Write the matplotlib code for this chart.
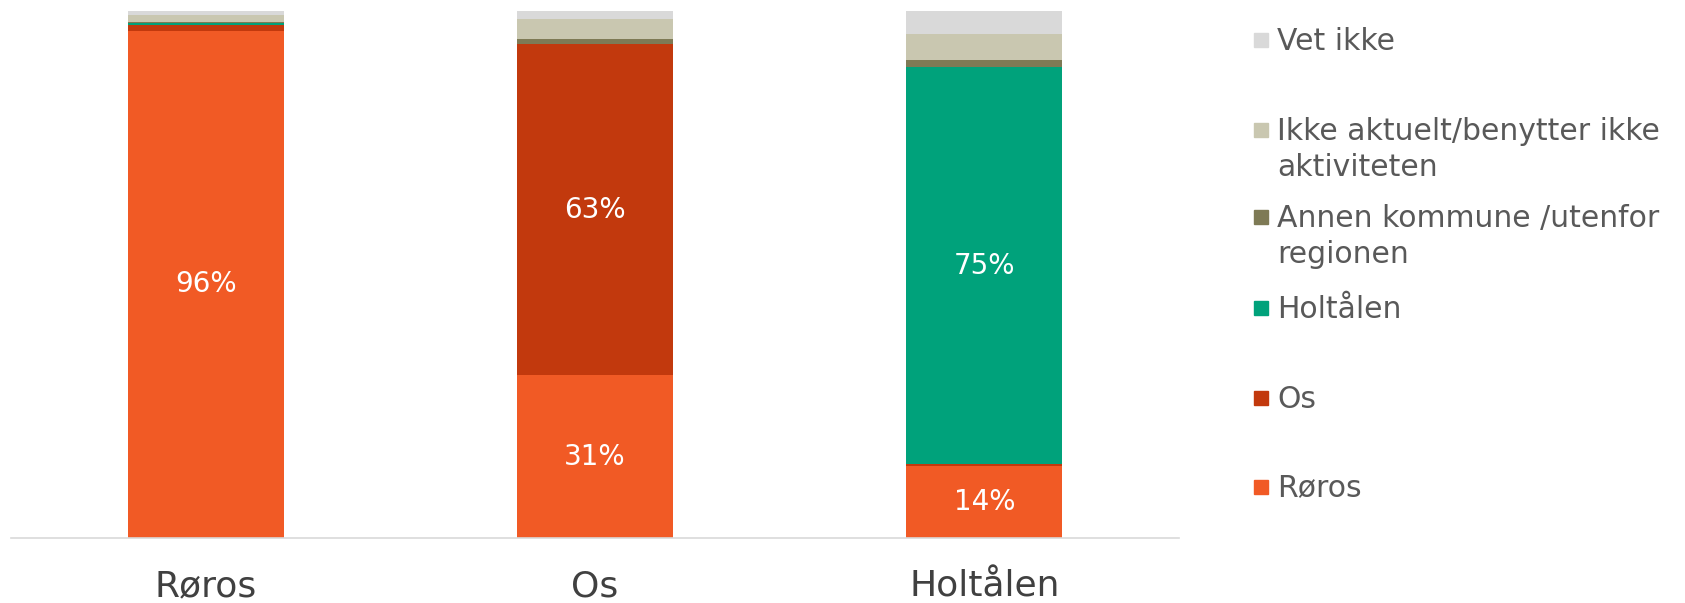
import numpy as np
import matplotlib
matplotlib.use("Agg")
from matplotlib import pyplot as plt
from matplotlib.patches import Rectangle

plt.rcParams['font.family'] = ['DejaVu Sans']

categories = ["Røros", "Os", "Holtålen"]
series = ["Røros", "Os", "Holtålen", "Annen kommune /utenfor\nregionen",
          "Ikke aktuelt/benytter ikke\naktiviteten", "Vet ikke"]
values = {
    "Røros": [96.3, 30.9, 13.7],
    "Os": [1.1, 62.9, 0.3],
    "Holtålen": [0.4, 0.0, 75.4],
    "Annen": [0.2, 1.0, 1.4],
    "Ikke aktuelt": [1.4, 3.8, 5.0],
    "Vet ikke": [0.6, 1.4, 4.2],
}
colors = ["#F15A25", "#C2390D", "#00A27B", "#7E7A55", "#C9C7B0", "#D9D9D9"]
show_label = 10  # only label segments bigger than this

fig = plt.figure(figsize=(16.85, 6.03), dpi=100)
ax = fig.add_axes([11 / 1685, 0.108, 1168 / 1685, 0.873])

x = np.arange(len(categories))
bottom = np.zeros(len(categories))
for key, color in zip(values, colors):
    v = np.array(values[key])
    ax.bar(x, v, 0.4, bottom=bottom, color=color, linewidth=0)
    for xi, b, vi in zip(x, bottom, v):
        if vi > show_label:
            ax.text(xi, b + vi / 2, f"{vi:.0f}%", ha='center', va='center',
                    color='white', fontsize=20)
    bottom += v

ax.set_xlim(-0.5, 2.5)
ax.set_ylim(0, 100)
for s in ['top', 'right', 'left']:
    ax.spines[s].set_visible(False)
ax.spines['bottom'].set_color('#D9D9D9')
ax.spines['bottom'].set_linewidth(1.2)
ax.set_yticks([])
ax.set_xticks(x)
ax.set_xticklabels(categories, fontsize=26, color='#404040')
ax.tick_params(axis='x', length=0, pad=23)

# legend, top entry = last series
leg_y = [0.934, 0.784, 0.640, 0.489, 0.340, 0.193]
for yy, name, color in zip(leg_y, series[::-1], colors[::-1]):
    fig.patches.append(Rectangle((1254 / 1685, yy - 0.012), 14 / 1685, 14 / 603,
                                 transform=fig.transFigure, color=color))
    fig.text(1277 / 1685, yy + 0.022, name, ha='left', va='top', fontsize=21.5,
             color='#595959', linespacing=1.32)

fig.savefig("out.png", dpi=100)
